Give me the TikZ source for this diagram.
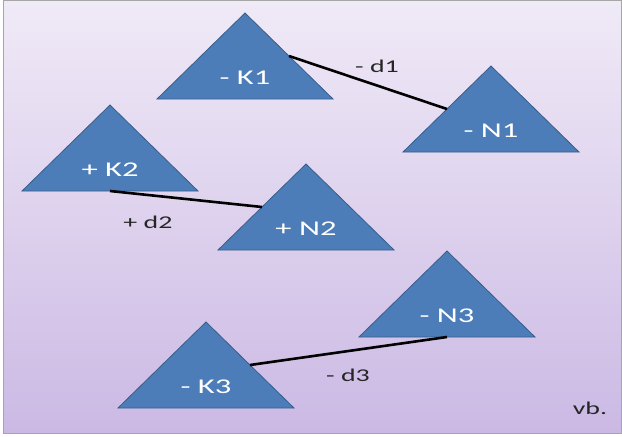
\documentclass[tikz,border=0pt]{standalone}
\usepackage{fontspec}
\usepackage{tikz}
\newfontfamily\calib{Carlito}[FakeStretch=1.55]
\definecolor{bgtop}{RGB}{240,234,247}
\definecolor{bgbot}{RGB}{203,185,228}
\definecolor{wedgeblue}{RGB}{76,125,184}
\definecolor{wedgeline}{RGB}{56,93,138}

\begin{document}
\begin{tikzpicture}
                    [x=1pt, y=-1pt,
                     link/.style = {line width=2.6pt, black},
                     wedgetext/.style = {text=white, font=\calib\fontsize{21}{25}\selectfont},
                     dlabel/.style = {text=black!85, font=\calib\fontsize{18}{21}\selectfont}]
                    \tikzset{pics/tri/.style = {code = {
                        \filldraw[fill=wedgeblue, draw=wedgeline, line width=0.8pt]
                            (-88,0) coordinate (-l) -- (0,-86) coordinate (-a)
                            -- (88,0) coordinate (-r) -- cycle;
                        \coordinate (-ls) at (-44,-43);
                        \coordinate (-rs) at (44,-43);
                        \coordinate (-bs) at (0,0);
                        \node[wedgetext] (-t) at (0,-21) {#1};
                    }}}
                    \useasboundingbox (0,0) rectangle (622,437);
                    \fill[white] (0,0) rectangle (622,437);
                    \shade[top color=bgtop, bottom color=bgbot, draw=black!35, line width=0.6pt]
                        (3,0) rectangle (621,433);

                    \pic (K1) at (245,99)  {tri={- K1}};
                    \pic (N1) at (491,152) {tri={- N1}};
                    \pic (K2) at (110,191) {tri={+ K2}};
                    \pic (N2) at (306,250) {tri={+ N2}};
                    \pic (N3) at (447,337) {tri={- N3}};
                    \pic (K3) at (206,408) {tri={- K3}};

                    \foreach \from/\to in {K1-rs/N1-ls,K2-bs/N2-ls,K3-rs/N3-bs}
                        \draw[link] (\from) -- (\to);

                    \node[dlabel] (d1) at (377,66)  {- d1};
                    \node[dlabel] (d2) at (148,222) {+ d2};
                    \node[dlabel] (d3) at (348,375) {- d3};
                    \node[dlabel] (vb) at (590,408) {vb.};
                \end{tikzpicture}
\end{document}
